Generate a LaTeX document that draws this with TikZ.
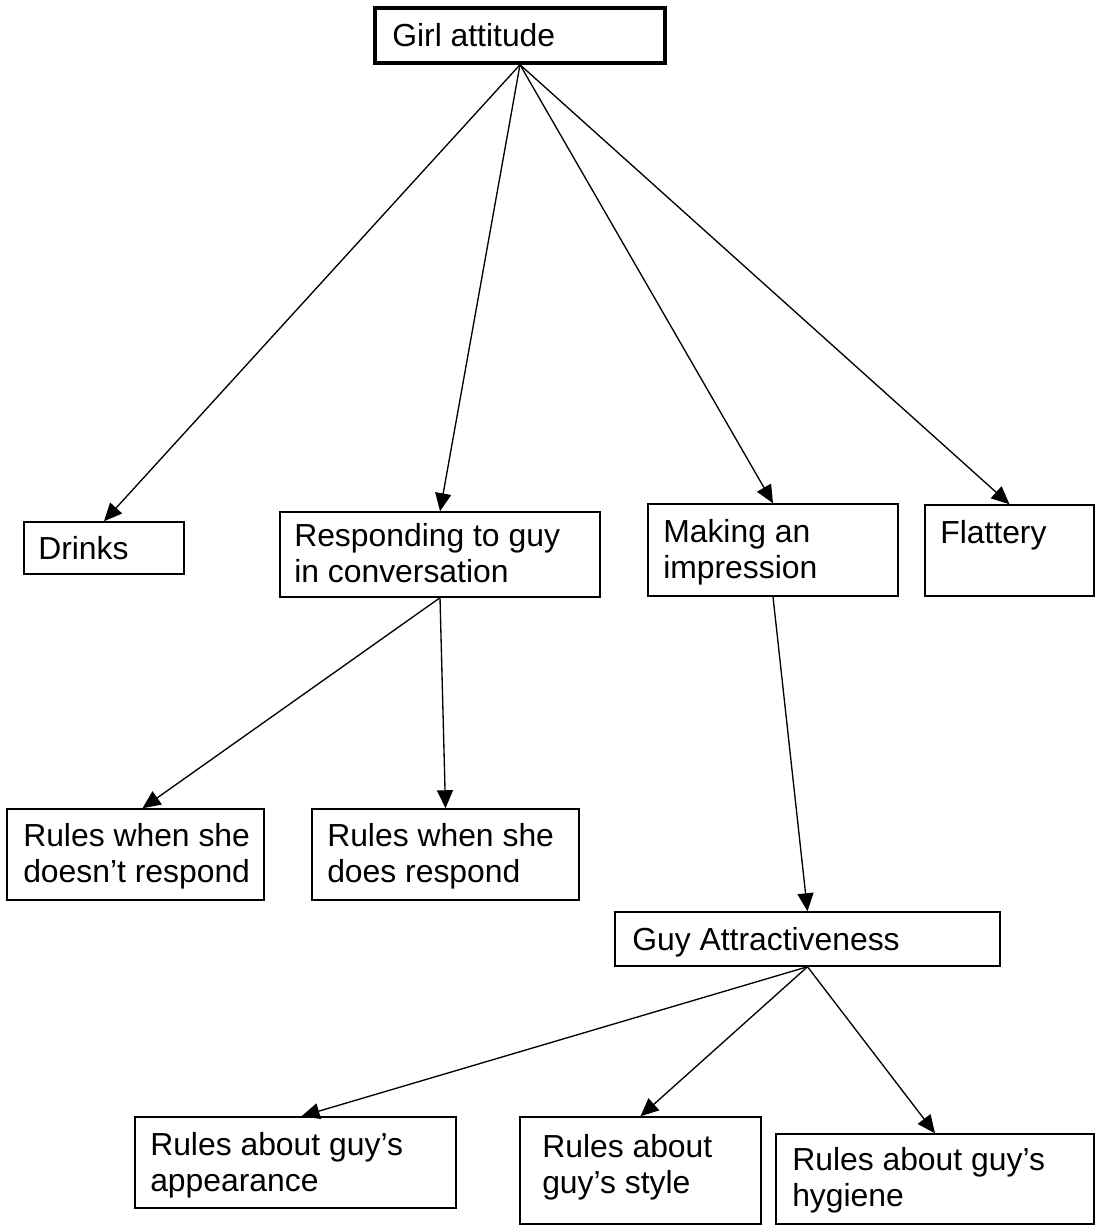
\documentclass[tikz,border=0pt]{standalone}
\usepackage{fontspec}
\setmainfont{Liberation Sans}
\usetikzlibrary{fit,calc,arrows.meta}
\newcommand\twoline[2]{\begin{tabular}[t]{@{}l@{}}#1\\#2\end{tabular}}
\begin{document}
\begin{tikzpicture}[x=0.75pt,y=-0.75pt,
  box/.style={draw, line width=1.1pt, inner sep=0pt, rectangle},
  txt/.style={anchor=base west, inner sep=0pt, font=\fontsize{23.9}{27}\selectfont},
  arr/.style={-{Triangle[length=13.5pt,width=12pt]}, line width=1pt}]
\useasboundingbox (0,0) rectangle (1096,1226);
% boxes
\node[box, line width=2.6pt, fit={(375,8) (665,63)}] (girl) {};
\node[box, fit={(24,522) (184,574)}] (drinks) {};
\node[box, fit={(280,512) (600,597)}] (resp) {};
\node[box, fit={(648,504) (898,596)}] (making) {};
\node[box, fit={(925,505) (1094,596)}] (flat) {};
\node[box, fit={(7,809) (264,900)}] (dnot) {};
\node[box, fit={(312,809) (579,900)}] (does) {};
\node[box, fit={(615,912) (1000,966)}] (guy) {};
\node[box, fit={(135,1117) (456,1208)}] (app) {};
\node[box, fit={(520,1117) (761,1224)}] (style) {};
\node[box, fit={(776,1134) (1094,1224)}] (hyg) {};
% texts
\node[txt] (girlt) at (392,47) {Girl attitude};
\node[txt] (drinkst) at (38,559) {Drinks};
\node[txt] (respt) at (294,546) {\twoline{Responding to guy}{in conversation}};
\node[txt] (makingt) at (663,542) {\twoline{Making an}{impression}};
\node[txt] (flatt) at (940,543) {Flattery};
\node[txt] (dnott) at (23,846) {\twoline{Rules when she}{doesn’t respond}};
\node[txt] (doest) at (327,846) {\twoline{Rules when she}{does respond}};
\node[txt] (guyt) at (632,950) {Guy Attractiveness};
\node[txt] (appt) at (150,1155) {\twoline{Rules about guy’s}{appearance}};
\node[txt] (stylet) at (542,1157) {\twoline{Rules about}{guy’s style}};
\node[txt] (hygt) at (792,1170) {\twoline{Rules about guy’s}{hygiene}};
% connectors
\draw[arr] (girl.south) -- (drinks.north);
\draw[arr] (girl.south) -- (resp.north);
\draw[arr] (girl.south) -- (making.north);
\draw[arr] (girl.south) -- (flat.north);
\draw[arr] (resp.south) -- ($(dnot.north)+(7,0)$);
\draw[arr] (resp.south) -- (does.north);
\draw[arr] (making.south) -- (guy.north);
\draw[arr] (guy.south) -- ($(app.north)+(6,0)$);
\draw[arr] (guy.south) -- (style.north);
\draw[arr] (guy.south) -- (hyg.north);
\end{tikzpicture}
\end{document}
